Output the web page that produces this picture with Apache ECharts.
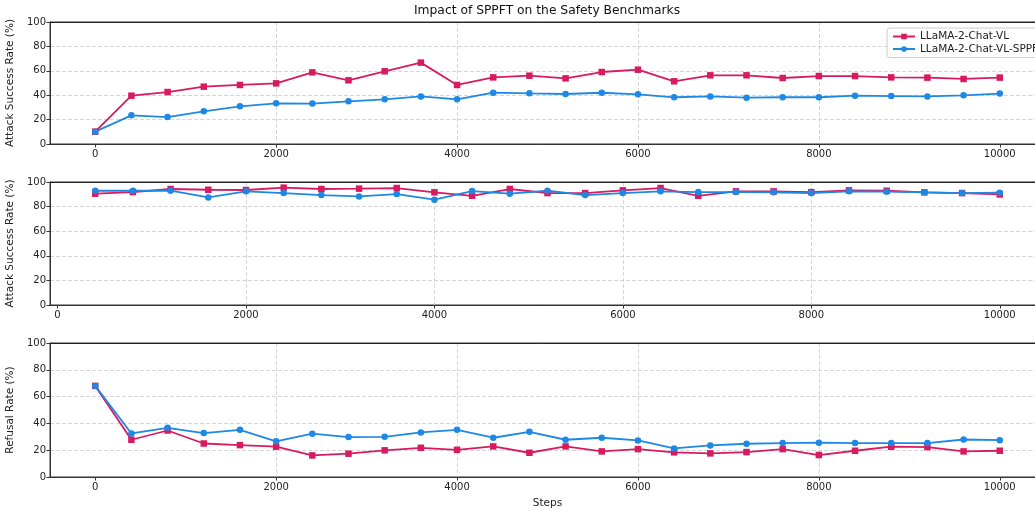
<!DOCTYPE html>
<html>
<head>
<meta charset="utf-8">
<script src="https://cdn.jsdelivr.net/npm/echarts@6/dist/echarts.min.js"></script>
<style>
  html, body { margin: 0; padding: 0; background: #fff; }
  #chart { width: 1035px; height: 511px; }
</style>
</head>
<body>
<div id="chart"></div>
<script>
// steps for the top and bottom panels
const steps = [0, 400, 800, 1200, 1600, 2000, 2400, 2800, 3200, 3600, 4000, 4400, 4800,
  5200, 5600, 6000, 6400, 6800, 7200, 7600, 8000, 8400, 8800, 9200, 9600, 10000];
// middle panel starts at 400
const stepsMid = [400, 800, 1200, 1600, 2000, 2400, 2800, 3200, 3600, 4000, 4400, 4800,
  5200, 5600, 6000, 6400, 6800, 7200, 7600, 8000, 8400, 8800, 9200, 9600, 10000];

const asrBase = [10.1, 39.6, 42.6, 47, 48.4, 49.7, 58.7, 52.2, 59.6, 66.7, 48.4, 54.6, 56,
  53.8, 59, 60.9, 51.4, 56.3, 56.3, 54.1, 55.7, 55.7, 54.6, 54.4, 53.3, 54.4];
const asrSppft = [10.1, 23.5, 22.1, 26.8, 30.9, 33.3, 33.1, 35, 36.6, 39, 36.6, 42.1, 41.5,
  41, 42, 40.7, 38.3, 39, 38, 38.3, 38.3, 39.6, 39.3, 39, 39.9, 41.3];

const asr2Base = [90.5, 91.8, 94.3, 93.7, 93.5, 95.4, 94.3, 94.6, 95.1, 91.6, 88.8, 94.3,
  91, 91, 93.2, 95.1, 88.8, 92.4, 92.4, 91.8, 93.2, 92.9, 91.6, 91, 89.9];
const asr2Sppft = [92.9, 92.9, 92.9, 87.5, 92.4, 91, 89.4, 88.3, 90.2, 85.6, 92.6, 90.5,
  92.9, 89.4, 91, 92.4, 91.8, 91.8, 91.6, 91, 92.4, 92.1, 91.6, 91, 91.3];

const refBase = [68, 27.8, 34.7, 25, 23.8, 22.6, 16.1, 17.4, 19.9, 21.8, 20.3, 22.8, 18.1,
  22.8, 19.1, 20.8, 18.4, 17.6, 18.6, 20.8, 16.4, 19.6, 22.6, 22.3, 19.1, 19.6];
const refSppft = [68, 32.5, 36.7, 32.8, 35.2, 26.6, 32.3, 29.8, 30, 33.3, 35.2, 29.3, 33.7,
  27.8, 29.3, 27.3, 21.3, 23.6, 24.8, 25.3, 25.6, 25.3, 25.3, 25.3, 28, 27.5];

const xTicks = [0, 2000, 4000, 6000, 8000, 10000];

const nameBase = "LLaMA-2-Chat-VL";
const nameSppft = "LLaMA-2-Chat-VL-SPPFT";
const red = "#D81B60";
const blue = "#1E88E5";
const font = "DejaVu Sans";

const pairs = (xs, ys) => xs.map((x, i) => [x, ys[i]]);

// panel rectangles (right edge runs past the window, as in the original)
const grids = [
  { left: 50, top: 22, width: 995, height: 122 },
  { left: 50, top: 182, width: 995, height: 123 },
  { left: 50, top: 343, width: 995, height: 134 }
].map(g => Object.assign(g, {
  show: true, borderColor: "#333", borderWidth: 1, backgroundColor: "transparent",
  outerBoundsMode: "none", containLabel: false
}));

const gridLine = { show: true, showMinLine: false, showMaxLine: false,
  lineStyle: { color: "#ccc", type: [4, 2], width: 0.8 } };

function xAxis(idx, min, max, name) {
  return {
    type: "value", gridIndex: idx, min: min, max: max,
    name: name || "", nameLocation: "middle", nameGap: 21,
    nameTextStyle: { fontFamily: font, fontSize: 10.5, color: "#222" },
    axisLine: { show: true, onZero: false, lineStyle: { color: "#333", width: 1 } },
    axisTick: { show: true, length: 3.5, customValues: xTicks, lineStyle: { color: "#333" } },
    axisLabel: { customValues: xTicks, formatter: v => String(v), fontFamily: font, fontSize: 10, color: "#222", margin: 5 },
    splitLine: gridLine
  };
}

// top spine only
function topAxis(idx, min, max) {
  return {
    type: "value", gridIndex: idx, min: min, max: max, position: "top",
    axisLine: { show: true, onZero: false, lineStyle: { color: "#222", width: 1 } },
    axisTick: { show: false }, axisLabel: { show: false }, splitLine: { show: false }
  };
}

function yAxis(idx, name) {
  return {
    type: "value", gridIndex: idx, min: 0, max: 100, interval: 20,
    name: name, nameLocation: "middle", nameGap: 33,
    nameTextStyle: { fontFamily: font, fontSize: 10.5, color: "#222" },
    axisLine: { show: true, onZero: false, lineStyle: { color: "#333", width: 1 } },
    axisTick: { show: true, length: 3.5, lineStyle: { color: "#333" } },
    axisLabel: { fontFamily: font, fontSize: 10, color: "#222", margin: 4 },
    splitLine: gridLine
  };
}

function line(name, idx, data, color, symbol, size) {
  return {
    name: name, type: "line", xAxisIndex: idx, yAxisIndex: idx,
    data: data, symbol: symbol, symbolSize: size, showSymbol: true,
    lineStyle: { color: color, width: 1.8 }, itemStyle: { color: color },
    emphasis: { disabled: true }, animation: false
  };
}

const chart = echarts.init(document.getElementById("chart"), null, { renderer: "canvas" });
chart.setOption({
  backgroundColor: "#fff",
  animation: false,
  graphic: [{
    type: "text", x: 547, y: 11,
    style: { text: "Impact of SPPFT on the Safety Benchmarks", fontFamily: font, fontSize: 12.3, fill: "#111",
      textAlign: "center", textVerticalAlign: "middle" }
  }],
  legend: {
    data: [nameBase, nameSppft], orient: "vertical", left: 887, top: 28,
    itemWidth: 22, itemHeight: 7, itemGap: 1.5, padding: [3, 5],
    borderColor: "#ccc", borderWidth: 1, borderRadius: 3, backgroundColor: "rgba(255,255,255,0.8)",
    textStyle: { fontFamily: font, fontSize: 10.5, color: "#222" }
  },
  grid: grids,
  xAxis: [
    xAxis(0, -500, 10500), xAxis(1, -80, 10480), xAxis(2, -500, 10500, "Steps"),
    topAxis(0, -500, 10500), topAxis(1, -80, 10480), topAxis(2, -500, 10500)
  ],
  yAxis: [yAxis(0, "Attack Success Rate (%)"), yAxis(1, "Attack Success Rate (%)"), yAxis(2, "Refusal Rate (%)")],
  series: [
    line(nameBase, 0, pairs(steps, asrBase), red, "rect", 6.5),
    line(nameSppft, 0, pairs(steps, asrSppft), blue, "circle", 6.5),
    line(nameBase, 1, pairs(stepsMid, asr2Base), red, "rect", 6.5),
    line(nameSppft, 1, pairs(stepsMid, asr2Sppft), blue, "circle", 6.5),
    line(nameBase, 2, pairs(steps, refBase), red, "rect", 6.5),
    line(nameSppft, 2, pairs(steps, refSppft), blue, "circle", 6.5)
  ]
});
</script>
</body>
</html>
